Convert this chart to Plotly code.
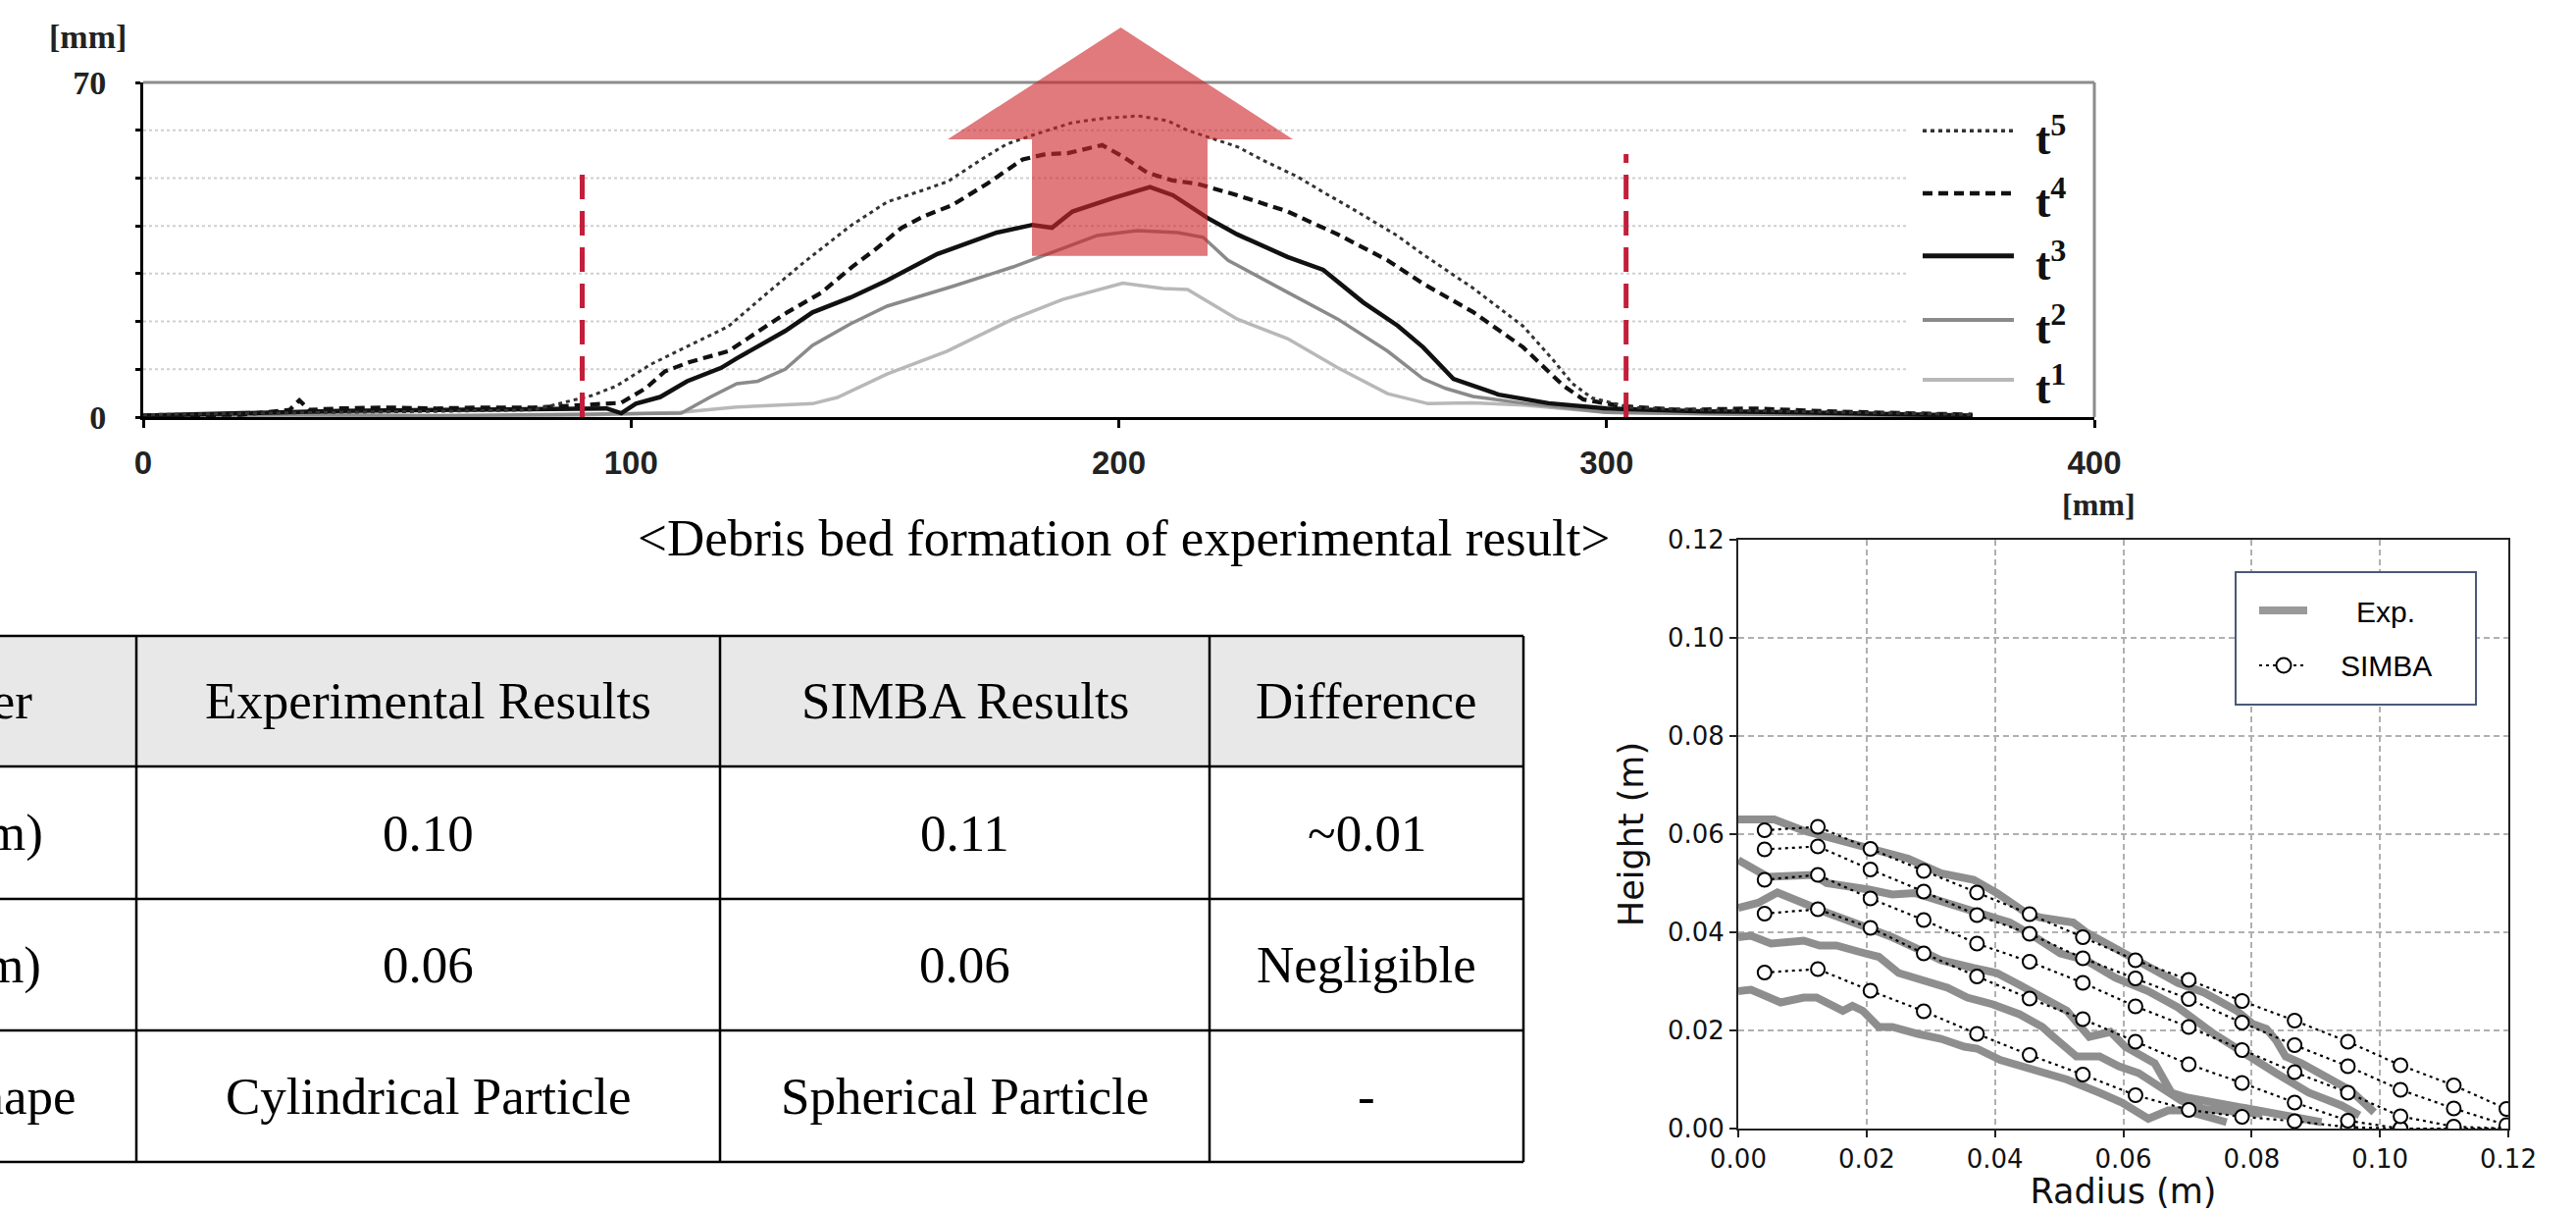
import plotly.graph_objects as go

W, H = 2626, 1234

# ================= Top chart: debris bed profiles (mm) =================
t1_x = [0, 30, 60, 90, 110, 121.7, 137.2, 142.3, 152.5, 164.8, 178.3, 188.5, 200.8, 209.1, 214.1,
        224.3, 234.6, 244.9, 255.1, 263.4, 272.4, 283, 300, 330, 360, 375]
t1_y = [0.2, 0.3, 0.2, 0.4, 1.0, 2.1, 2.8, 4.1, 9.0, 13.8, 20.5, 24.6, 28.0, 26.9, 26.7,
        20.5, 16.4, 10.3, 4.9, 2.8, 3.0, 2.5, 1.0, 0.5, 0.4, 0.2]

t2_x = [0, 30, 60, 90, 100, 110.3, 116.3, 121.7, 126, 131.6, 137.2, 145, 152.5, 165.8, 178.3, 187.5,
        195.6, 203.8, 212.1, 217.3, 222.4, 234.6, 244.9, 255.1, 262.4, 267, 272.6, 283, 300, 330, 360, 375]
t2_y = [0.2, 0.5, 0.3, 0.5, 0.6, 0.8, 4.2, 7.0, 7.5, 10.0, 15.0, 19.5, 23.2, 27.3, 31.4, 34.9,
        38.0, 39.0, 38.6, 37.6, 32.8, 26.1, 20.5, 13.8, 8.0, 6.0, 4.3, 2.9, 1.0, 0.6, 0.4, 0.2]

t3_x = [0, 20, 40, 60, 80, 95, 98, 101, 106, 111.5, 118.5, 121.7, 131.6, 137.2, 145, 152.5, 162.8,
        175, 182.3, 186.3, 190.5, 198.8, 206.4, 211.1, 218.3, 224.3, 234.6, 241.9, 250.1, 257.2,
        262.4, 268.6, 277.9, 288.1, 300, 320, 340, 360, 375]
t3_y = [0.3, 0.8, 1.3, 1.5, 1.6, 1.8, 0.8, 2.8, 4.2, 7.5, 10.3, 12.3, 18.0, 21.9, 25.0, 28.6, 34.1,
        38.6, 40.2, 39.6, 43.0, 45.8, 48.1, 46.4, 41.6, 38.2, 33.5, 30.8, 24.0, 19.1,
        14.6, 8.0, 4.7, 2.9, 1.8, 1.2, 1.0, 0.6, 0.3]

t4_x = [0, 20, 30, 32, 34, 40, 50, 60, 70, 80, 90, 95, 98, 103, 107, 112, 120, 132, 139, 145.3,
        150, 155.5, 160, 165.8, 173, 180.3, 185, 189.5, 196.6, 200.8, 205.9, 211, 216.1, 224.3,
        234.6, 244.9, 255.1, 262.4, 272.6, 282.9, 291.1, 295.2, 303, 315, 330, 345, 360, 375]
t4_y = [0.3, 0.5, 1.5, 3.5, 1.5, 1.8, 2.0, 1.8, 2.0, 2.0, 2.5, 2.8, 3.0, 6.0, 9.6, 11.5, 13.8, 21.9, 26.0, 31.4,
        35.0, 39.6, 42.0, 44.3, 48.8, 53.9, 55.0, 55.2, 56.9, 54.5, 51.1, 49.5, 48.8, 46.4,
        43.0, 38.2, 32.8, 27.9, 22.0, 14.6, 6.6, 3.7, 2.3, 1.5, 1.8, 1.2, 0.8, 0.5]

t5_x = [0, 20, 40, 60, 80, 88, 92, 97, 104, 112, 120, 128, 135, 145, 152.5, 160, 165, 172, 177, 183,
        190.5, 197, 204, 210, 214, 220, 224.4, 230, 236.6, 242, 248, 257, 262.4, 272.6, 282.9, 289,
        293, 297, 305, 320, 340, 360, 375]
t5_y = [0.5, 0.8, 1.0, 1.2, 1.5, 3.5, 4.5, 6.5, 11.0, 15.0, 19.0, 26.0, 32.0, 40.0, 45.0, 47.5, 49.3, 54.0, 57.1, 59.2,
        61.6, 62.5, 63.0, 62.0, 60.0, 58.0, 56.5, 53.5, 50.3, 47.0, 43.5, 38.0, 34.0, 27.0, 19.0, 12.0,
        7.0, 4.0, 2.0, 1.5, 1.2, 0.8, 0.5]

top_names = ["t<sup>1</sup>", "t<sup>2</sup>", "t<sup>3</sup>", "t<sup>4</sup>", "t<sup>5</sup>"]
boundary_x = [90, 304]
boundary_top = [53, 55]
top_xticks = [0, 100, 200, 300, 400]
top_ylabel_ticks = [0, 70]
top_minor_ticks = [10, 20, 30, 40, 50, 60]
top_grid = [10, 20, 30, 40, 50, 60]

# ================= Right chart: Exp. vs SIMBA (m) =================
simba_r = [0.0041, 0.0124, 0.0206, 0.0289, 0.0372, 0.0454, 0.0537, 0.0619, 0.0702, 0.0785,
           0.0867, 0.0950, 0.1032, 0.1115, 0.1197]
simba1_h = [0.0318, 0.0325, 0.0281, 0.0239, 0.0193, 0.0150, 0.0110, 0.0068, 0.0038, 0.0024,
            0.0015, 0.0003, 0.0, 0.0, 0.0]
simba2_h = [0.0438, 0.0447, 0.0409, 0.0357, 0.0310, 0.0265, 0.0223, 0.0177, 0.0131, 0.0093,
            0.0053, 0.0016, 0.0, 0.0, 0.0]
simba3_h = [0.0507, 0.0517, 0.0469, 0.0425, 0.0377, 0.0340, 0.0297, 0.0249, 0.0207, 0.0160,
            0.0115, 0.0073, 0.0025, 0.0004, 0.0]
simba4_h = [0.0569, 0.0575, 0.0528, 0.0483, 0.0435, 0.0397, 0.0347, 0.0306, 0.0264, 0.0216,
            0.0170, 0.0127, 0.0079, 0.0041, 0.0007]
simba5_h = [0.0608, 0.0615, 0.0570, 0.0525, 0.0481, 0.0437, 0.0390, 0.0343, 0.0303, 0.0260,
            0.0220, 0.0177, 0.0129, 0.0088, 0.0040]

exp1_r = [0, 0.002, 0.0066, 0.0102, 0.0122, 0.0163, 0.0178, 0.0194, 0.0219, 0.024, 0.028, 0.0316, 0.0352,
          0.0372, 0.0408, 0.0443, 0.0469, 0.0512, 0.0563, 0.0598, 0.0639, 0.067, 0.0695, 0.0726, 0.0761]
exp1_h = [0.028, 0.0283, 0.0257, 0.0267, 0.0267, 0.024, 0.025, 0.024, 0.0207, 0.0207, 0.0193, 0.0183, 0.0167,
          0.0163, 0.014, 0.0127, 0.012, 0.010, 0.0073, 0.0053, 0.002, 0.0037, 0.0037, 0.0027, 0.0013]
exp2_r = [0, 0.002, 0.0051, 0.0102, 0.0127, 0.0153, 0.0189, 0.0219, 0.025, 0.029, 0.0326, 0.0357, 0.0397,
          0.0438, 0.0474, 0.0491, 0.0527, 0.0563, 0.0593, 0.0624, 0.0654, 0.069, 0.0726, 0.0817]
exp2_h = [0.039, 0.0393, 0.0377, 0.0383, 0.0373, 0.0373, 0.036, 0.035, 0.0317, 0.0303, 0.0287, 0.0267, 0.0253,
          0.0233, 0.0207, 0.0187, 0.0147, 0.0147, 0.0127, 0.0113, 0.0087, 0.0057, 0.004, 0.003]
exp3_r = [0, 0.0031, 0.0061, 0.0102, 0.0138, 0.0194, 0.024, 0.0285, 0.0316, 0.0367, 0.0403, 0.0438, 0.0474,
          0.0512, 0.0547, 0.058, 0.0603, 0.0649, 0.0675, 0.070, 0.0797, 0.0909]
exp3_h = [0.045, 0.046, 0.0481, 0.0457, 0.044, 0.0413, 0.039, 0.0363, 0.0343, 0.0327, 0.0317, 0.0293, 0.0267,
          0.024, 0.0187, 0.0197, 0.0167, 0.0133, 0.0073, 0.0063, 0.004, 0.0013]
exp4_r = [0, 0.0046, 0.0117, 0.0138, 0.0204, 0.024, 0.0275, 0.0316, 0.0367, 0.0423, 0.0459, 0.0502, 0.0542,
          0.0588, 0.0639, 0.0685, 0.0741, 0.0787, 0.0838, 0.0889, 0.094, 0.0968]
exp4_h = [0.0547, 0.0513, 0.0517, 0.050, 0.0487, 0.0477, 0.048, 0.0463, 0.044, 0.042, 0.0393, 0.0357, 0.0343,
          0.0307, 0.028, 0.0247, 0.0193, 0.0153, 0.0113, 0.0073, 0.0047, 0.0027]
exp5_r = [0, 0.0056, 0.0102, 0.0153, 0.0204, 0.024, 0.0265, 0.0316, 0.0367, 0.0403, 0.0448, 0.0471, 0.0522,
          0.0542, 0.0598, 0.0639, 0.0685, 0.0726, 0.0777, 0.0802, 0.0823, 0.0838, 0.0853, 0.0878, 0.0914,
          0.0955, 0.0991]
exp5_h = [0.063, 0.063, 0.0607, 0.059, 0.057, 0.0557, 0.055, 0.052, 0.0507, 0.048, 0.044, 0.043, 0.042,
          0.040, 0.036, 0.0327, 0.0297, 0.0277, 0.024, 0.0213, 0.0203, 0.018, 0.0147, 0.0133, 0.0107,
          0.0077, 0.0033]
right_ticks = [0.00, 0.02, 0.04, 0.06, 0.08, 0.10, 0.12]

# ================= Table =================
table_header = ["Parameter", "Experimental Results", "SIMBA Results", "Difference"]
table_row1 = ["Radius (m)", "0.10", "0.11", "~0.01"]
table_row2 = ["Height (m)", "0.06", "0.06", "Negligible"]
table_row3 = ["Particle Shape", "Cylindrical Particle", "Spherical Particle", "-"]
caption = "&lt;Debris bed formation of experimental result&gt;"

# ================= Layout geometry (pixels) =================
TX0, TX1, TY0, TY1 = 146, 2135, 84, 425      # top plot box
RX0, RX1, RY0, RY1 = 1772, 2557, 550, 1150   # right plot box
COL_EDGES = [-289, 139, 734, 1233, 1553]
ROW_EDGES = [648, 781, 916, 1050, 1184]


def fx(X):
    return X / W


def fy(Y):
    return 1 - Y / H


def top_paper(xmm, ymm):
    return fx(TX0 + xmm / 400 * (TX1 - TX0)), fy(TY1 - ymm / 70 * (TY1 - TY0))


R_PX = (RX1 - RX0) / 0.12
H_PX = (RY1 - RY0) / 0.12

SERIF = "Liberation Serif, Times New Roman, serif"
SANS = "Liberation Sans, Arial, sans-serif"
DJV = "DejaVu Sans, sans-serif"

fig = go.Figure()

# ---- top chart traces ----
top_styles = [
    (t1_x, t1_y, "#b8b8b8", 3.5, "solid"),
    (t2_x, t2_y, "#8a8a8a", 3.5, "solid"),
    (t3_x, t3_y, "#111111", 4.5, "solid"),
    (t4_x, t4_y, "#111111", 4.2, "10px,6px"),
    (t5_x, t5_y, "#333333", 3.0, "4px,4px"),
]
for name, (xs, ys, col, lw, dash) in zip(top_names, top_styles):
    fig.add_trace(go.Scatter(x=xs, y=ys, mode="lines", name=name, showlegend=False,
                             line=dict(color=col, width=lw, dash=dash), xaxis="x", yaxis="y"))
for bx, bt in zip(boundary_x, boundary_top):
    fig.add_trace(go.Scatter(x=[bx, bx], y=[0, bt], mode="lines", showlegend=False,
                             line=dict(color="#c41e3a", width=5, dash="25px,12px"),
                             xaxis="x", yaxis="y", hoverinfo="skip"))

# ---- right chart traces ----
for rr, hh in [(exp1_r, exp1_h), (exp2_r, exp2_h), (exp3_r, exp3_h), (exp4_r, exp4_h), (exp5_r, exp5_h)]:
    fig.add_trace(go.Scatter(x=rr, y=hh, mode="lines", name="Exp.", showlegend=False,
                             line=dict(color="#8e8e8e", width=8), xaxis="x2", yaxis="y2"))
for hh in [simba1_h, simba2_h, simba3_h, simba4_h, simba5_h]:
    fig.add_trace(go.Scatter(x=simba_r, y=hh, mode="lines+markers", name="SIMBA", showlegend=False,
                             line=dict(color="black", width=2.2, dash="3px,4px"),
                             marker=dict(symbol="circle", size=14, color="white",
                                         line=dict(color="black", width=2)),
                             xaxis="x2", yaxis="y2"))

shapes = []
annotations = []

# ---- top chart decorations ----
for g in top_grid:
    shapes.append(dict(type="line", xref="x", yref="y", x0=0, x1=362, y0=g, y1=g, layer="below",
                       line=dict(color="#cfcfcf", width=2, dash="3px,3px")))
shapes.append(dict(type="line", xref="x domain", yref="y domain", x0=0, x1=1, y0=1, y1=1,
                   line=dict(color="#8c8c8c", width=3)))
shapes.append(dict(type="line", xref="x domain", yref="y domain", x0=1, x1=1, y0=0, y1=1,
                   line=dict(color="#8c8c8c", width=3)))

# arrow (mm geometry converted to paper)
a_tip = top_paper(200.4, 81.5)
a_hl = top_paper(164.9, 58.1)
a_hr = top_paper(235.7, 58.1)
a_sl_top = top_paper(182.2, 58.1)
a_sr_top = top_paper(218.2, 58.1)
a_sl_bot = top_paper(182.2, 33.7)
a_sr_bot = top_paper(218.2, 33.7)
pts = [a_sl_bot, a_sl_top, a_hl, a_tip, a_hr, a_sr_top, a_sr_bot]
path = "M " + " L ".join(f"{p[0]:.5f},{p[1]:.5f}" for p in pts) + " Z"
shapes.append(dict(type="path", xref="paper", yref="paper", path=path, layer="above",
                   fillcolor="rgba(205,40,45,0.62)", line=dict(width=0)))

# top legend (manual)
leg_y = [7.8, 20.3, 33.7, 46.8, 59.9]
for (xs, ys, col, lw, dash), ly, name in zip(top_styles, leg_y, top_names):
    shapes.append(dict(type="line", xref="x", yref="y", x0=364.8, x1=383.5, y0=ly, y1=ly,
                       line=dict(color=col, width=lw + 0.5, dash=dash)))
    annotations.append(dict(xref="x", yref="y", x=387.5, y=ly - 1.0, text=f"<b>{name}</b>",
                            showarrow=False, xanchor="left", yanchor="middle",
                            font=dict(family=SERIF, size=46, color="#111")))

annotations.append(dict(xref="paper", yref="paper", x=fx(89), y=fy(37), text="<b>[mm]</b>",
                        showarrow=False, xanchor="center", yanchor="middle",
                        font=dict(family=SERIF, size=34, color="#222")))
annotations.append(dict(xref="paper", yref="paper", x=fx(2139), y=fy(514), text="<b>[mm]</b>",
                        showarrow=False, xanchor="center", yanchor="middle",
                        font=dict(family=SERIF, size=32, color="#222")))
annotations.append(dict(xref="paper", yref="paper", x=fx(1145), y=fy(548), text=caption,
                        showarrow=False, xanchor="center", yanchor="middle",
                        font=dict(family=SERIF, size=53, color="black")))

# ---- table ----
shapes.append(dict(type="rect", xref="paper", yref="paper", x0=fx(COL_EDGES[0]), x1=fx(COL_EDGES[-1]),
                   y0=fy(ROW_EDGES[1]), y1=fy(ROW_EDGES[0]), fillcolor="#e8e8e8",
                   line=dict(width=0), layer="below"))
for Y in ROW_EDGES:
    shapes.append(dict(type="line", xref="paper", yref="paper", x0=fx(COL_EDGES[0]), x1=fx(COL_EDGES[-1]),
                       y0=fy(Y), y1=fy(Y), line=dict(color="black", width=2.5)))
for X in COL_EDGES:
    shapes.append(dict(type="line", xref="paper", yref="paper", x0=fx(X), x1=fx(X),
                       y0=fy(ROW_EDGES[0]), y1=fy(ROW_EDGES[-1]), line=dict(color="black", width=2.5)))
for ri, row in enumerate([table_header, table_row1, table_row2, table_row3]):
    cy = (ROW_EDGES[ri] + ROW_EDGES[ri + 1]) / 2
    for ci, txt in enumerate(row):
        cx = (COL_EDGES[ci] + COL_EDGES[ci + 1]) / 2
        annotations.append(dict(xref="paper", yref="paper", x=fx(cx), y=fy(cy), text=txt,
                                showarrow=False, xanchor="center", yanchor="middle",
                                font=dict(family=SERIF, size=53, color="black")))

# ---- right chart legend (manual) ----
def rx(X):
    return (X - RX0) / R_PX


def ry(Y):
    return (RY1 - Y) / H_PX


shapes.append(dict(type="rect", xref="x2", yref="y2", x0=rx(2279), x1=rx(2524), y0=ry(718), y1=ry(583),
                   fillcolor="white", line=dict(color="#4a5878", width=2), layer="above"))
shapes.append(dict(type="line", xref="x2", yref="y2", x0=rx(2303), x1=rx(2352), y0=ry(622), y1=ry(622),
                   line=dict(color="#999999", width=8), layer="above"))
shapes.append(dict(type="line", xref="x2", yref="y2", x0=rx(2303), x1=rx(2349), y0=ry(678), y1=ry(678),
                   line=dict(color="black", width=2.2, dash="3px,4px"), layer="above"))
shapes.append(dict(type="circle", xref="x2", yref="y2", x0=rx(2328 - 7.5), x1=rx(2328 + 7.5),
                   y0=ry(678 + 7.5), y1=ry(678 - 7.5), fillcolor="white",
                   line=dict(color="black", width=2), layer="above"))
annotations.append(dict(xref="x2", yref="y2", x=rx(2432), y=ry(624), text="Exp.", showarrow=False,
                        xanchor="center", yanchor="middle", font=dict(family=SANS, size=30, color="black")))
annotations.append(dict(xref="x2", yref="y2", x=rx(2432), y=ry(679), text="SIMBA", showarrow=False,
                        xanchor="center", yanchor="middle", font=dict(family=SANS, size=30, color="black")))

fig.update_layout(
    width=W, height=H, margin=dict(l=0, r=0, t=0, b=0, autoexpand=False),
    paper_bgcolor="white", plot_bgcolor="white",
    font=dict(family=DJV, color="black"),
    showlegend=False,
    shapes=shapes, annotations=annotations,
    xaxis=dict(domain=[fx(TX0), fx(TX1)], range=[0, 400], anchor="y",
               showline=True, linecolor="black", linewidth=3, mirror=False,
               ticks="outside", ticklen=8, tickwidth=3, tickcolor="black",
               tickvals=top_xticks, showgrid=False, zeroline=False,
               tickfont=dict(family=SANS, size=33, color="#222", weight="bold"),
               ticklabelstandoff=7, fixedrange=True),
    yaxis=dict(domain=[fy(TY1), fy(TY0)], range=[0, 70], anchor="x",
               showline=True, linecolor="black", linewidth=3,
               ticks="outside", ticklen=5, tickwidth=3, tickcolor="black",
               tickvals=top_ylabel_ticks, showgrid=False, zeroline=False,
               minor=dict(tickvals=top_minor_ticks, ticks="outside", ticklen=5, tickwidth=3,
                          tickcolor="black", showgrid=False),
               tickfont=dict(family=SERIF, size=34, color="#222", weight="bold"),
               ticklabelstandoff=23, fixedrange=True),
    xaxis2=dict(domain=[fx(RX0), fx(RX1)], range=[0, 0.12], anchor="y2",
                showline=True, mirror=True, linecolor="#222", linewidth=2,
                ticks="outside", ticklen=7, tickwidth=2, tickcolor="#222",
                tickvals=right_ticks, tickformat=".2f",
                showgrid=True, gridcolor="#b0b0b0", gridwidth=1.5, griddash="6px,4px", zeroline=False,
                tickfont=dict(family=DJV, size=26, color="#111"),
                title=dict(text="Radius (m)", font=dict(family=DJV, size=35, color="#111"), standoff=8),
                fixedrange=True),
    yaxis2=dict(domain=[fy(RY1), fy(RY0)], range=[0, 0.12], anchor="x2",
                showline=True, mirror=True, linecolor="#222", linewidth=2,
                ticks="outside", ticklen=7, tickwidth=2, tickcolor="#222",
                tickvals=right_ticks, tickformat=".2f",
                showgrid=True, gridcolor="#b0b0b0", gridwidth=1.5, griddash="6px,4px", zeroline=False,
                tickfont=dict(family=DJV, size=26, color="#111"),
                title=dict(text="Height (m)", font=dict(family=DJV, size=35, color="#111"), standoff=14),
                fixedrange=True),
)

fig.write_html("out.html",
               config={"displayModeBar": False},
               post_script="document.body.style.margin='0';document.body.style.overflow='hidden';")
